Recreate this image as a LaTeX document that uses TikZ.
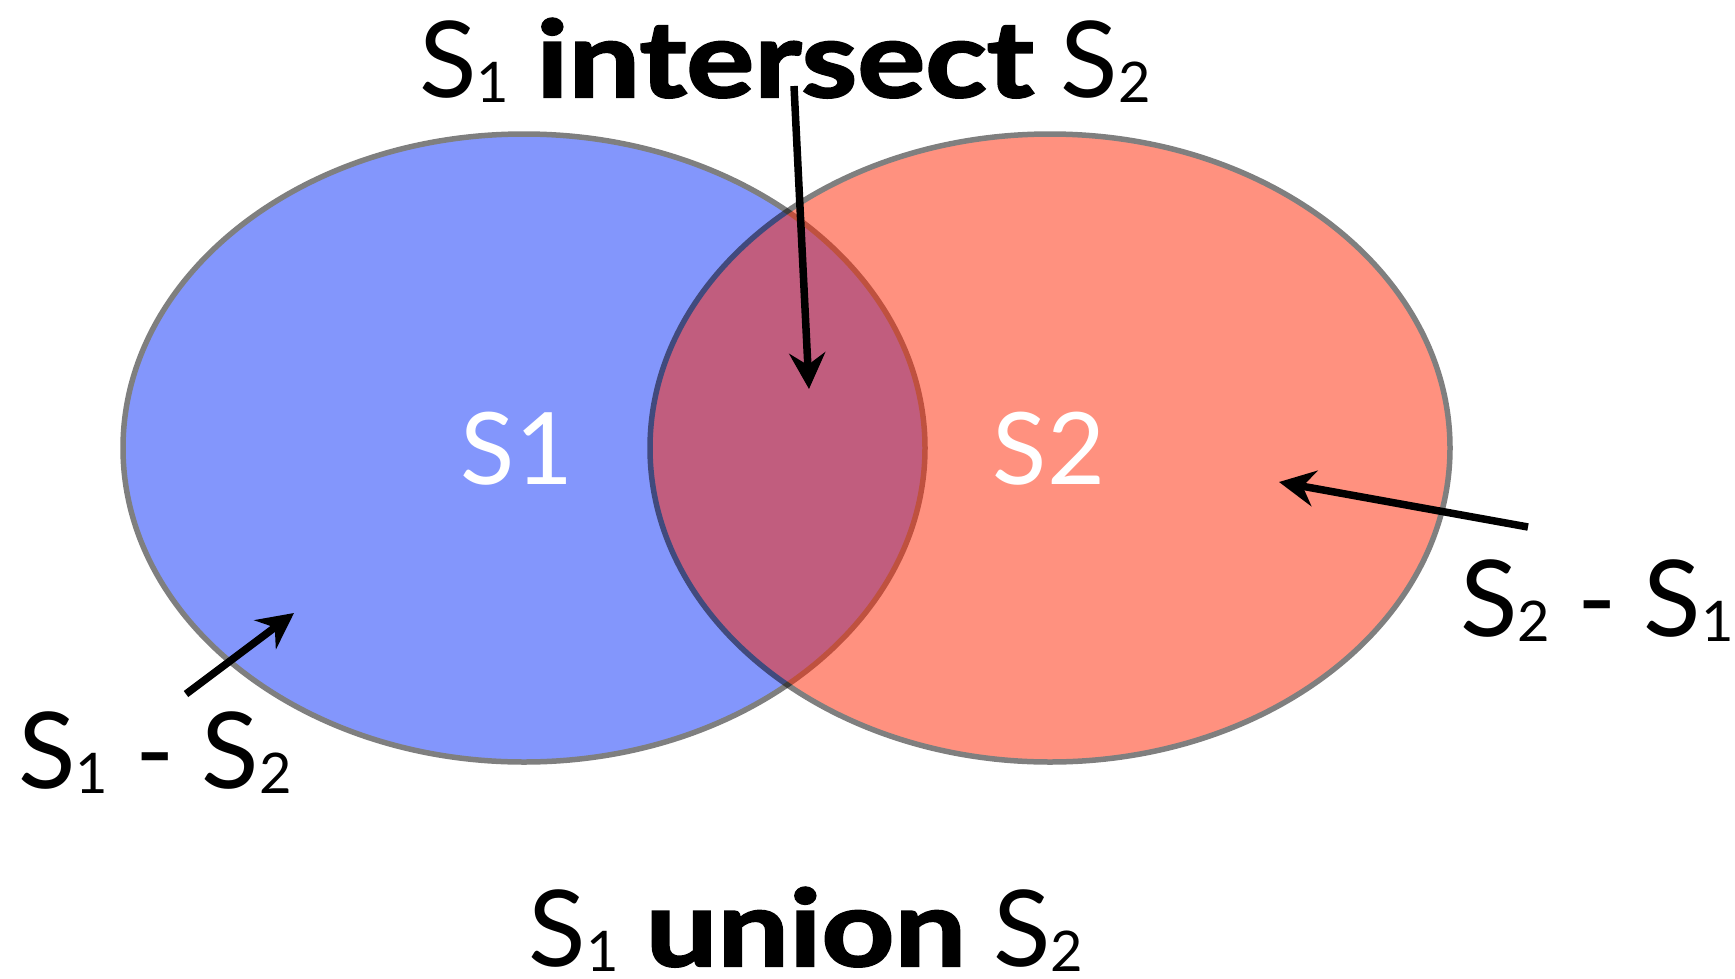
\documentclass[tikz,border=0pt]{standalone}
\usepackage{fontspec}
\setmainfont{Lato}[BoldFeatures={FakeBold=2.2,FakeStretch=1.2}]
\usetikzlibrary{arrows.meta}
\definecolor{setblue}{RGB}{9,47,251}
\definecolor{setred}{RGB}{255,37,1}
% small lowered index after a set name
\newcommand{\setidx}[1]{\raisebox{-5pt}{\fontsize{56}{56}\selectfont #1}}
\begin{document}
\begin{tikzpicture}[x=1pt,y=-1pt,
  setshape/.style={line width=5.5pt, draw=black},
  pointer/.style={line width=7.5pt, -{Stealth[length=36pt,width=36pt,inset=12pt]}},
  caption/.style={anchor=base, inner sep=0pt, font=\fontsize{106}{110}\selectfont},
  inlabel/.style={anchor=base, inner sep=0pt, text=white, font=\fontsize{100}{110}\selectfont}]
\useasboundingbox (0,0) rectangle (1735,978);
\fill[white] (0,0) rectangle (1735,978);

% the two sets, each composited at half opacity as a whole
\begin{scope}[transparency group, opacity=0.5]
  \path[setshape, fill=setblue] (524,448) ellipse [x radius=401pt, y radius=314pt];
\end{scope}
\begin{scope}[transparency group, opacity=0.5]
  \path[setshape, fill=setred] (1050,448) ellipse [x radius=400pt, y radius=314pt];
\end{scope}

% set names
\node[inlabel] (s1) at (517,484) {S1};
\node[inlabel] (s2) at (1049,484) {S2};

% captions
\node[caption] (inter) at (785,97) {S\setidx{1} \textbf{intersect} S\setidx{2}};
\node[caption] (union) at (806,966) {S\setidx{1} \textbf{union} S\setidx{2}};
\node[caption] (diff12) at (155,788) {S\setidx{1} - S\setidx{2}};
\node[caption] (diff21) at (1597,636) {S\setidx{2} - S\setidx{1}};

% pointer ends
\coordinate (interA) at (794,86);
\coordinate (interB) at (809,389);
\coordinate (d12A) at (186,694);
\coordinate (d12B) at (294,613);
\coordinate (d21A) at (1528,527);
\coordinate (d21B) at (1279,482);

\draw[pointer] (interA) -- (interB);
\draw[pointer] (d12A) -- (d12B);
\draw[pointer] (d21A) -- (d21B);
\end{tikzpicture}
\end{document}
